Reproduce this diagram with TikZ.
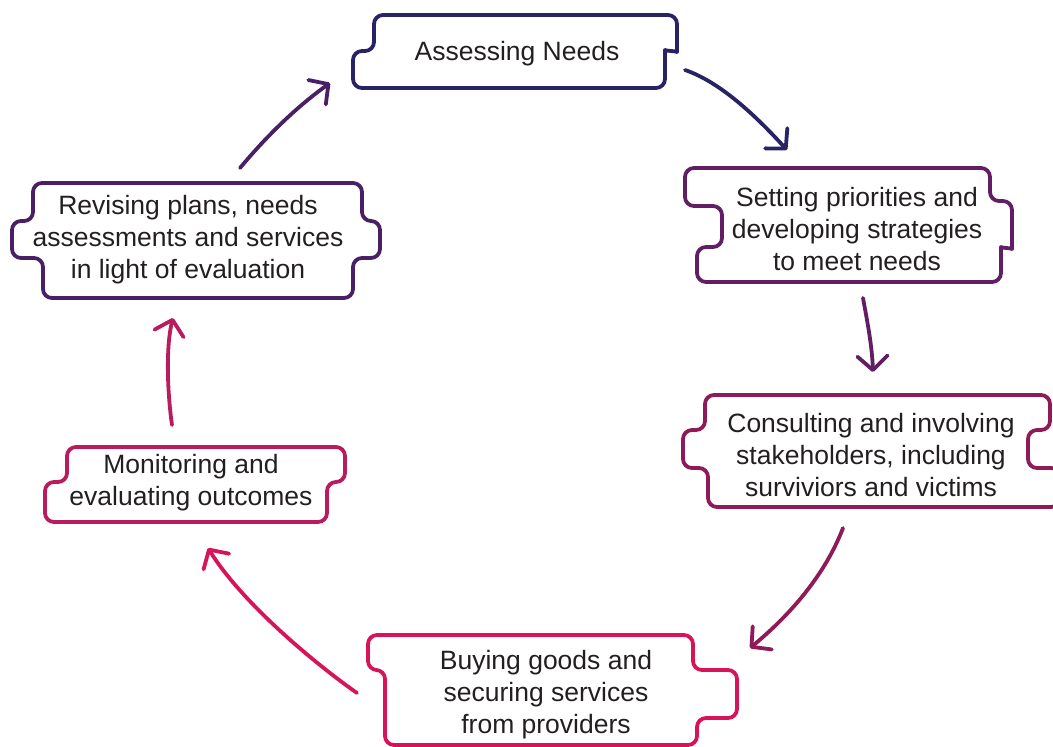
\documentclass[tikz,border=0pt]{standalone}
\usepackage{fontspec}
\setmainfont{Liberation Sans}
\usetikzlibrary{arrows.meta}
\definecolor{cA}{HTML}{282364}
\definecolor{cB}{HTML}{621E64}
\definecolor{cC}{HTML}{8E1A58}
\definecolor{cD}{HTML}{D7145A}
\definecolor{cE}{HTML}{B91B5C}
\definecolor{cF}{HTML}{4A1F66}
\definecolor{txt}{HTML}{231F20}
\begin{document}
\begin{tikzpicture}[x=1pt,y=-1pt,
  boxline/.style={line width=3.8pt, rounded corners=9pt, line join=round},
  lbl/.style={align=center, font=\fontsize{26.5}{32}\selectfont, text=txt, inner sep=0pt},
  arr/.style={line width=3.8pt, line cap=round, -{Straight Barb[length=14pt,width=30pt,line cap=round,line join=round]}}
]
\useasboundingbox (0,0) rectangle (1053,747);

% box 1
\draw[boxline,cA] (520,15) -- (677,15) -- (677,43) .. controls (677,51) and (665,51) .. (665,59) -- (665,88) -- (353,88) -- (353,51) -- (374,51) -- (374,15) -- cycle;
\node[lbl] (n1) at (517,54) {Assessing Needs};

% box 2
\draw[boxline,cB] (840,168) -- (990,168) -- (990,201) -- (1012,201) -- (1012,240) .. controls (1012,248) and (1001,248) .. (1001,256) -- (1001,282) -- (697,282) -- (697,247) -- (722,247) -- (722,206) -- (685,206) -- (685,168) -- cycle;
\node[lbl] (n2) at (857,229) {Setting priorities and\\developing strategies\\to meet needs};

% box 3
\draw[boxline,cC] (870,395) -- (1050,395) -- (1050,430) -- (1028,430) -- (1028,468) -- (1060,468) -- (1060,507) -- (708,507) -- (708,468) -- (683,468) -- (683,430) -- (705,430) -- (705,395) -- cycle;
\node[lbl] (n3) at (871,455) {Consulting and involving\\stakeholders, including\\surviviors and victims};

% box 4
\draw[boxline,cD] (530,635) -- (693,635) -- (693,670) -- (737,670) -- (737,718) -- (697,718) -- (697,745) -- (385,745) -- (385,670) -- (368,670) -- (368,635) -- cycle;
\node[lbl] (n4) at (546,695) {Buying goods and\\securing services\\from providers};

% box 5
\draw[boxline,cE] (200,447) -- (345,447) -- (345,482) -- (327,482) -- (327,522) -- (45,522) -- (45,482) -- (67,482) -- (67,447) -- cycle;
\node[lbl] (n5) at (191,483) {Monitoring and\\evaluating outcomes};

% box 6
\draw[boxline,cF] (200,183) -- (362,183) -- (362,221) -- (380,221) -- (380,258) -- (353,258) -- (353,298) -- (43,298) -- (43,258) -- (12,258) -- (12,221) -- (33,221) -- (33,183) -- cycle;
\node[lbl] (n6) at (188,240) {Revising plans, needs\\assessments and services\\in light of evaluation};

% connector end points
\coordinate (a1s) at (685,70);  \coordinate (a1e) at (787,150);
\coordinate (a2s) at (863,298); \coordinate (a2e) at (873,372);
\coordinate (a3s) at (843,528); \coordinate (a3e) at (750,648);
\coordinate (a4s) at (357,693); \coordinate (a4e) at (208,548);
\coordinate (a5s) at (172,425); \coordinate (a5e) at (173,318);
\coordinate (a6s) at (240,168); \coordinate (a6e) at (330,83);

\draw[arr,cA] (a1s) .. controls (720,82) and (755,115) .. (a1e);
\draw[arr,cB] (a2s) .. controls (867,320) and (872,345) .. (a2e);
\draw[arr,cC] (a3s) .. controls (825,575) and (790,615) .. (a3e);
\draw[arr,cD] (a4s) .. controls (310,660) and (240,600) .. (a4e);
\draw[arr,cE] (a5s) .. controls (167,390) and (166,345) .. (a5e);
\draw[arr,cF] (a6s) .. controls (265,138) and (295,108) .. (a6e);
\end{tikzpicture}
\end{document}
